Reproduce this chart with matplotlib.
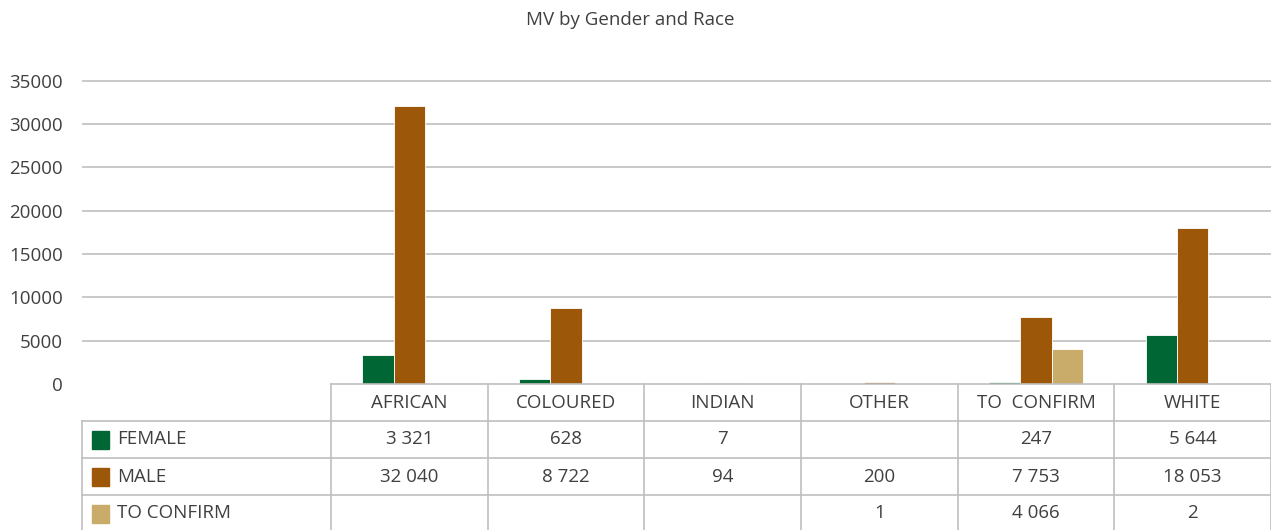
import matplotlib.pyplot as plt
from matplotlib.patches import Rectangle
import matplotlib.transforms as mtransforms

# data
races = ['AFRICAN', 'COLOURED', 'INDIAN', 'OTHER', 'TO  CONFIRM', 'WHITE']
series = ['FEMALE', 'MALE', 'TO CONFIRM']
female = [3321, 628, 7, None, 247, 5644]
male = [32040, 8722, 94, 200, 7753, 18053]
to_confirm = [None, None, None, 1, 4066, 2]
colors = ['#006633', '#9C5709', '#C9AC6A']

plt.rcParams['font.family'] = ['Open Sans', 'DejaVu Sans']
txt_color = '#404040'
grid_color = '#BFBFBF'
fs = 13.5

W, H = 1271, 530
fig = plt.figure(figsize=(W / 100, H / 100), dpi=100)

# axes from x=82 to 1271, y=60 to 384 (pixels)
ax_l, ax_r, ax_t, ax_b = 82, 1271, 60, 384
ax = fig.add_axes([ax_l / W, 1 - ax_b / H, (ax_r - ax_l) / W, (ax_b - ax_t) / H])

col_w = (1271 - 331) / len(races)      # width of one category in px
bw = 0.2
for k, vals in enumerate([female, male, to_confirm]):
    xs = [i + (k - 1) * bw for i, v in enumerate(vals) if v is not None]
    ys = [v for v in vals if v is not None]
    ax.bar(xs, ys, width=bw, color=colors[k], edgecolor='white', linewidth=0.6, zorder=3)

ax.set_xlim(5.5 - (ax_r - ax_l) / col_w, 5.5)
ax.set_ylim(0, 37400)
ax.set_yticks(range(0, 35001, 5000))
ax.set_xticks([])
ax.tick_params(axis='y', length=0, pad=14, labelsize=fs, labelcolor=txt_color)
ax.grid(axis='y', color=grid_color, linewidth=1.2, zorder=0)
ax.get_ygridlines()[0].set_visible(False)
for s in ax.spines.values():
    s.set_visible(False)

# table under the plot (x in data units, y in pixels from top of figure)
def fy(py):
    return (ax_b - py) / (ax_b - ax_t)

def fmt(v):
    return '' if v is None else f'{v:,}'.replace(',', ' ')

tr = mtransforms.blended_transform_factory(ax.transData, ax.transAxes)
x0 = ax.get_xlim()[0]
row_y = [384, 421, 458, 495, 532]
n = len(races)
lk = dict(color=grid_color, linewidth=1.2, transform=tr, clip_on=False, zorder=4)

ax.plot([-0.5, 5.5], [fy(384)] * 2, **lk)
for py in row_y[1:4]:
    ax.plot([x0, 5.5], [fy(py)] * 2, **lk)
ax.plot([x0, x0], [fy(421), fy(532)], **lk)
for i in range(n + 1):
    ax.plot([i - 0.5] * 2, [fy(384), fy(532)], **lk)

tk = dict(transform=tr, clip_on=False, color=txt_color, fontsize=fs, va='center')
for i, name in enumerate(races):
    ax.text(i, fy(402.5), name, ha='center', **tk)
for r, vals in enumerate([female, male, to_confirm]):
    yc = (row_y[r + 1] + row_y[r + 2]) / 2
    for i, v in enumerate(vals):
        ax.text(i, fy(yc), fmt(v), ha='center', **tk)
    # legend square + series name
    ax.add_patch(Rectangle((x0 + (92 - ax_l) / col_w, fy(yc + 9)), 17 / col_w, 18 / (ax_b - ax_t),
                           transform=tr, color=colors[r], clip_on=False, zorder=5))
    ax.text(x0 + (117 - ax_l) / col_w, fy(yc), series[r], ha='left', **tk)

fig.text(630 / W, 1 - 20 / H, 'MV by Gender and Race', ha='center', va='center',
         fontsize=13.5, color=txt_color)

fig.savefig('out.png', dpi=100)
